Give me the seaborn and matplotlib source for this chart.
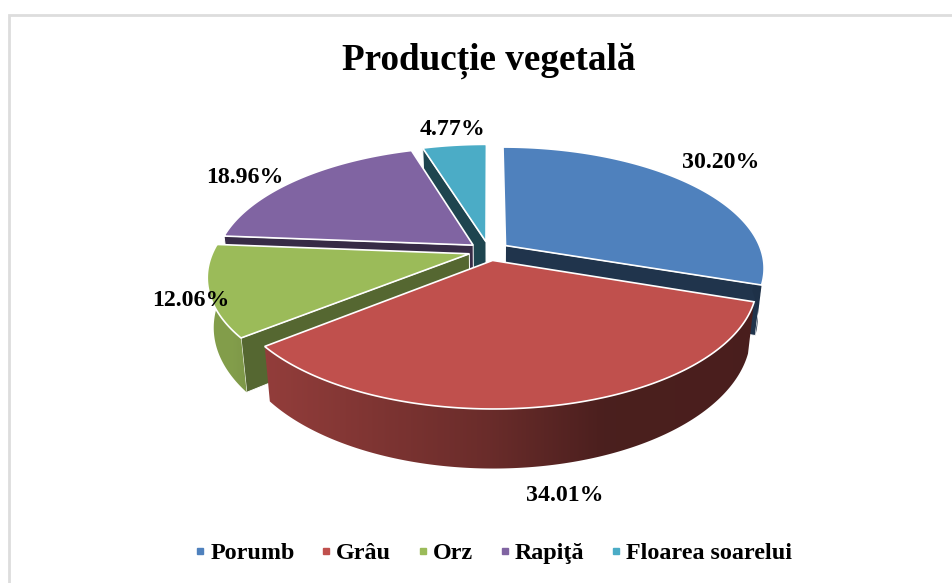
import numpy as np
import matplotlib
matplotlib.use("Agg")
import matplotlib.pyplot as plt
import seaborn as sns
from matplotlib.lines import Line2D
from matplotlib.patches import Polygon

categories = ["Porumb", "Grâu", "Orz", "Rapiţă", "Floarea soarelui"]
shares = [30.20, 34.01, 12.06, 18.96, 4.77]
colors = ["#4F81BD", "#C0504D", "#9BBB59", "#8064A2", "#4BACC6"]
title = "Producție vegetală"

# layout of the fake 3d pie, in pixels
cx, cy = 489, 251
ax_a, ax_b = 256, 118
persp = 0.18
explode = 0.08
depth = 48
shrink = 0.977
wall_dark = [0.40, 0.40, 0.55, 0.43, 0.40]
label_xy = [(720.5, 162.5), (565, 495.5), (191, 300.5), (245, 177.5), (452, 129.5)]
draw_order = [4, 3, 0, 2, 1]

sns.set_theme(style="white")
plt.rcParams["font.family"] = ["Liberation Serif", "DejaVu Serif"]
palette = sns.color_palette(colors)

fig, ax = plt.subplots(figsize=(9.52, 5.83), dpi=100)
fig.subplots_adjust(0, 0, 1, 1)
ax.axis("off")


def project(u, v, low=False):
    s = 1 / (1 - persp * v)
    x = ax_a * u * s
    y = ax_b * v * s
    if low:
        return cx + x * shrink, cy + y + depth * s
    return cx + x, cy + y


def dark(c, f):
    return tuple(np.array(c) * f)


# chart frame, only left and top are in the picture
ax.plot([9, 9, 952], [583, 15, 15], color="#DDDDDD", lw=2, solid_joinstyle="miter", zorder=1)

edges = np.concatenate([[0], np.cumsum(shares)]) / sum(shares) * 2 * np.pi
z = 2

for i in draw_order:
    a0, a1 = edges[i], edges[i + 1]
    mid = (a0 + a1) / 2
    ou, ov = explode * np.sin(mid), -explode * np.cos(mid)
    ang = np.linspace(a0, a1, 200)
    us = ou + np.sin(ang)
    vs = ov - np.cos(ang)
    col = palette[i]

    # straight cut walls, only the ones turned to the viewer
    for k, seen in [(0, np.sin(a0) < 0), (-1, np.sin(a1) > 0)]:
        if not seen:
            continue
        pts = [project(ou, ov), project(us[k], vs[k]),
               project(us[k], vs[k], True), project(ou, ov, True)]
        ax.add_patch(Polygon(pts, closed=True, fc=dark(col, wall_dark[i]), ec="white", lw=0.7, zorder=z))
        z += 1

    # outer wall, front part only, darker to the right
    front = np.cos(ang) < 0.02
    if front.any():
        upper = [project(u, v) for u, v in zip(us[front], vs[front])]
        lower = [project(u, v, True) for u, v in zip(us[front], vs[front])]
        shape = Polygon(upper + lower[::-1], closed=True, fc="none", ec="none", transform=ax.transData)
        ax.add_patch(shape)
        px = np.array(upper + lower)
        x0, x1 = px[:, 0].min(), px[:, 0].max()
        y0, y1 = px[:, 1].min(), px[:, 1].max()
        gx = (np.linspace(x0, x1, 300) - cx) / ax_a
        gf = np.interp(gx, [-1, -0.86, 0, 0.45, 1], [0.84, 0.76, 0.55, 0.39, 0.385])
        grad = np.array(col)[None, None, :] * gf[None, :, None]
        im = ax.imshow(grad, extent=[x0, x1, y1, y0], aspect="auto", zorder=z, interpolation="bilinear")
        im.set_clip_path(shape)
        z += 1

    # top face
    top = [project(ou, ov)] + [project(u, v) for u, v in zip(us, vs)]
    ax.add_patch(Polygon(top, closed=True, fc=col, ec="white", lw=1.2, joinstyle="miter", zorder=z))
    z += 1

ax.set_xlim(0, 952)
ax.set_ylim(583, 0)

for val, (x, y) in zip(shares, label_xy):
    ax.text(x, y, f"{val:.2f}%", ha="center", va="center", fontsize=17.2, fontweight="bold", color="black", zorder=z)

ax.text(489, 61, title, ha="center", va="center", fontsize=26.7, fontweight="bold", color="black")

handles = [Line2D([], [], ls="", marker="s", ms=4.5, color=c) for c in palette]
leg = ax.legend(handles, categories, loc="center", bbox_to_anchor=(490 / 952, 1 - 553 / 583), ncol=5,
                frameon=False, prop={"size": 17.4, "weight": "bold"}, handletextpad=-0.09,
                columnspacing=0.81, handlelength=1.0, labelcolor="black")
leg.set_zorder(z)

fig.savefig("out.png", dpi=100)
